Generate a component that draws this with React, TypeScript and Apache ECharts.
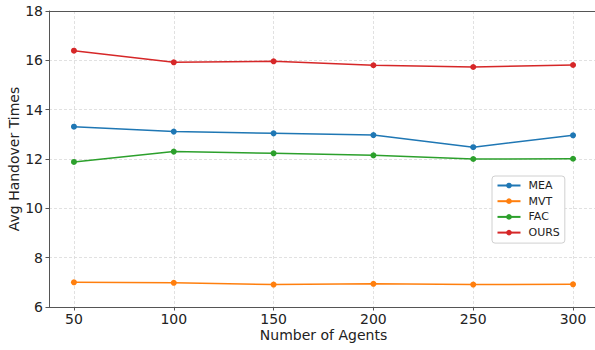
import React, { useEffect, useRef } from "react";
import * as echarts from "echarts";

const agentCounts = [50, 100, 150, 200, 250, 300];
const meaValues = [13.31, 13.11, 13.04, 12.97, 12.48, 12.96];
const mvtValues = [7.0, 6.98, 6.91, 6.94, 6.91, 6.92];
const facValues = [11.88, 12.3, 12.23, 12.15, 12.0, 12.01];
const oursValues = [16.39, 15.92, 15.96, 15.8, 15.73, 15.81];
const yTicks = [6, 8, 10, 12, 14, 16, 18];

const FONT = "DejaVu Sans";

function pairs(values: number[]) {
  return agentCounts.map((x, i) => [x, values[i]]);
}

function lineSeries(name: string, color: string, values: number[]) {
  return {
    name,
    type: "line",
    data: pairs(values),
    symbol: "circle",
    symbolSize: 6,
    lineStyle: { color, width: 1.5 },
    itemStyle: { color },
    emphasis: { disabled: true },
  };
}

export default function App() {
  const ref = useRef<HTMLDivElement>(null);

  useEffect(() => {
    if (!ref.current) return;
    const chart = echarts.init(ref.current, undefined, { renderer: "svg" });
    const gridLine = { show: true, lineStyle: { color: "#d9d9d9", type: [3, 2], width: 0.8 } };
    chart.setOption({
      animation: false,
      backgroundColor: "#ffffff",
      grid: {
        left: 49,
        right: -3,
        top: 11,
        bottom: 43,
        show: false,
        containLabel: false,
        outerBoundsMode: "none",
      },
      legend: {
        orient: "vertical",
        left: 492,
        top: 176,
        padding: [2.5, 5, 3.5, 4.5],
        itemGap: 1.7,
        itemWidth: 23,
        itemHeight: 7,
        borderColor: "#d0d0d0",
        borderWidth: 1,
        borderRadius: 3,
        backgroundColor: "#ffffff",
        textStyle: {
          fontFamily: FONT,
          fontSize: 11,
          color: "#222",
          lineHeight: 14,
          padding: [0, 0, 0, 3],
        },
        data: ["MEA", "MVT", "FAC", "OURS"],
      },
      xAxis: {
        type: "value",
        min: 37.5,
        max: 312.5,
        name: "Number of Agents",
        nameLocation: "middle",
        nameGap: 21,
        nameMoveOverlap: false,
        nameTextStyle: { fontFamily: FONT, fontSize: 14, color: "#222" },
        axisLine: { show: true, lineStyle: { color: "#555", width: 1 } },
        axisTick: { show: true, length: 3.5, lineStyle: { color: "#555" }, customValues: agentCounts },
        axisLabel: { fontFamily: FONT, fontSize: 14, color: "#222", margin: 5, customValues: agentCounts },
        splitLine: gridLine,
      },
      yAxis: {
        type: "value",
        min: 6,
        max: 18,
        interval: 2,
        name: "Avg Handover Times",
        nameLocation: "middle",
        nameGap: 28.5,
        nameMoveOverlap: false,
        nameTextStyle: { fontFamily: FONT, fontSize: 14, color: "#222" },
        axisLine: { show: true, lineStyle: { color: "#555", width: 1 } },
        axisTick: { show: true, length: 3.5, lineStyle: { color: "#555" } },
        axisLabel: {
          fontFamily: FONT,
          fontSize: 14,
          color: "#222",
          margin: 6,
          formatter: (v: number) => (yTicks.includes(v) ? String(v) : ""),
        },
        splitLine: gridLine,
      },
      graphic: [
        {
          type: "line",
          z: 100,
          shape: { x1: 49, y1: 11.5, x2: 595, y2: 11.5 },
          style: { stroke: "#555", lineWidth: 1 },
          silent: true,
        },
      ],
      series: [
        lineSeries("MEA", "#1f77b4", meaValues),
        lineSeries("MVT", "#ff7f0e", mvtValues),
        lineSeries("FAC", "#2ca02c", facValues),
        lineSeries("OURS", "#d62728", oursValues),
      ],
    });
    return () => chart.dispose();
  }, []);

  return (
    <div
      ref={ref}
      style={{ position: "fixed", left: 0, top: 0, width: 595, height: 350 }}
    />
  );
}
